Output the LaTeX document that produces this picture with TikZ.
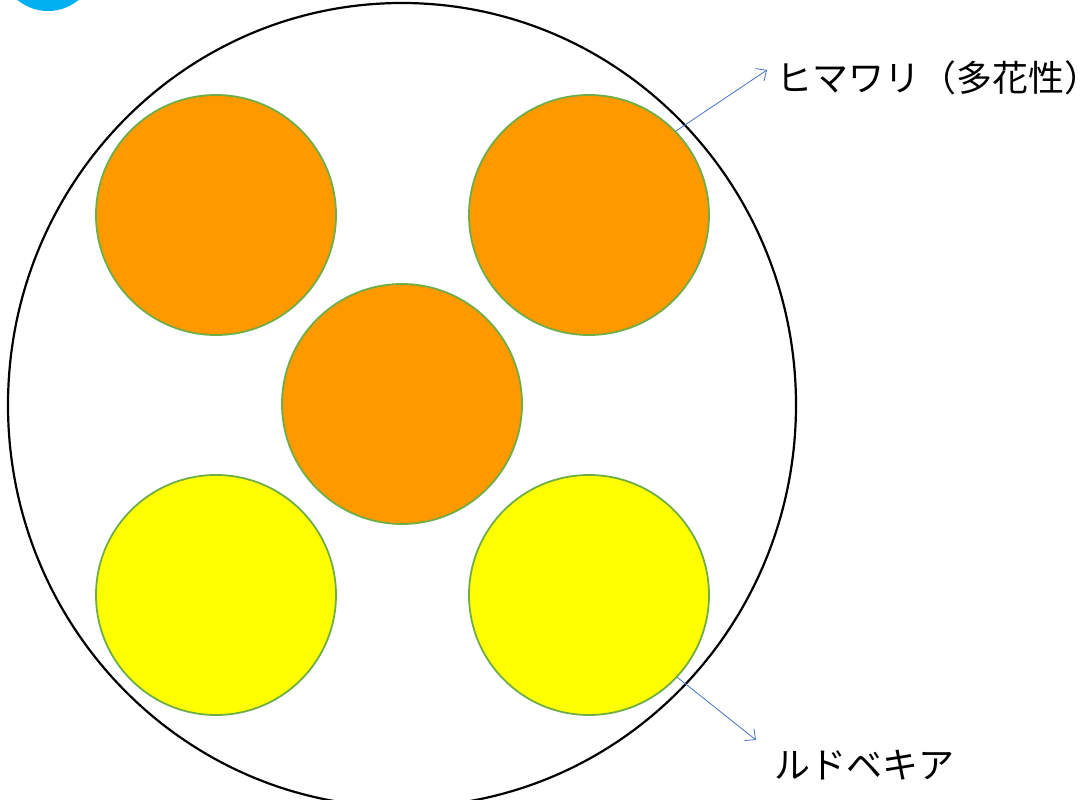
\documentclass[tikz,border=0pt]{standalone}
\usepackage{fontspec}
\newfontfamily\jpfont{Noto Sans CJK JP}
\usetikzlibrary{arrows.meta}

\begin{document}
\begin{tikzpicture}[x=1pt, y=-1pt, line cap=round, line join=round,
    flower/.style={circle, draw=leafgreen, line width=1.8pt, minimum size=240pt, inner sep=0pt},
    pointer/.style={-{Straight Barb[length=8pt,width=15pt]}, arrowblue, line width=0.8pt},
    namebox/.style={anchor=west, inner sep=0pt, font=\jpfont\fontsize{36}{40}\selectfont}]
  \definecolor{leafgreen}{HTML}{70AD47}
  \definecolor{arrowblue}{HTML}{4472C4}
  \definecolor{sunorange}{HTML}{FF9900}
  \definecolor{rudyellow}{HTML}{FFFF00}
  \definecolor{markcyan}{HTML}{00B0F0}
  \useasboundingbox (0,0) rectangle (1085,800);
  % corner mark, mostly off the page
  \fill[markcyan] (48,-37) circle [radius=48pt];
  % the bed
  \draw[line width=2.2pt] (402,405) ellipse [x radius=394pt, y radius=402pt];
  % plants
  \node[flower, fill=sunorange] (hima1) at (216,215) {};
  \node[flower, fill=sunorange] (hima2) at (589,215) {};
  \node[flower, fill=sunorange] (hima3) at (402,404) {};
  \node[flower, fill=rudyellow] (rud1) at (216,595) {};
  \node[flower, fill=rudyellow] (rud2) at (589,595) {};
  % names
  \node[namebox] (himaname) at (776,78) {ヒマワリ（多花性）};
  \node[namebox] (rudname) at (774,765) {ルドベキア};
  \coordinate (himatip) at (767,70);
  \coordinate (rudtip) at (756,740);
  \draw[pointer] (hima2.44) -- (himatip);
  \draw[pointer] (rud2.-43) -- (rudtip);
\end{tikzpicture}
\end{document}
